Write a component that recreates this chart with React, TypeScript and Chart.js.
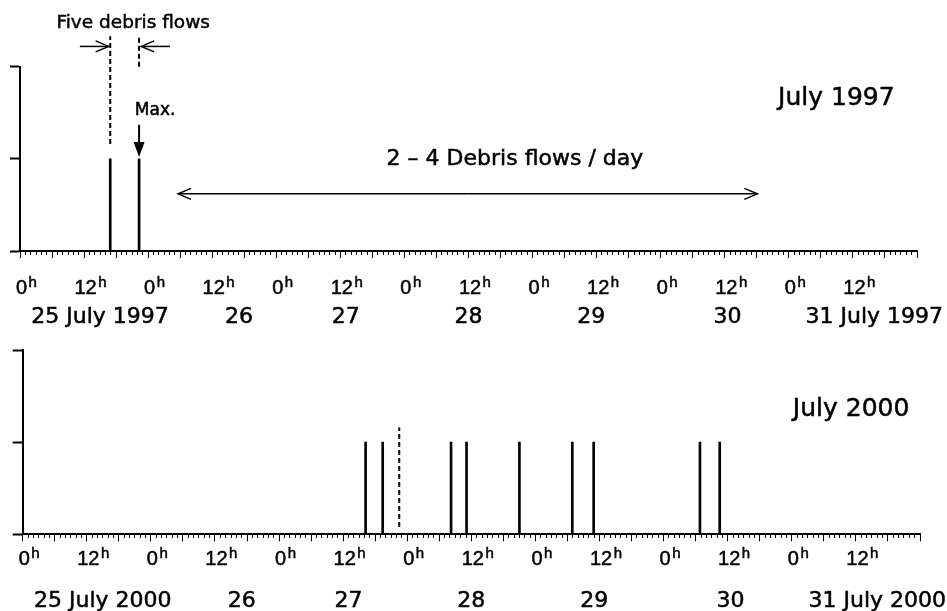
import React, { useEffect, useRef } from 'react';
import { Chart, registerables } from 'chart.js';

Chart.register(...registerables);

// ---------------- data ----------------
const HOUR_MIN = 0;
const HOUR_MAX = 168; // 25 July 0h .. 1 Aug 0h
const hourLabelValues = [0, 12, 24, 36, 48, 60, 72, 84, 96, 108, 120, 132, 144, 156];
const hourLabelTexts = ['0', '12', '0', '12', '0', '12', '0', '12', '0', '12', '0', '12', '0', '12'];
const dateLabelHours = [15, 41, 61, 84, 107, 132.5, 160];
const dateLabels1997 = ['25 July 1997', '26', '27', '28', '29', '30', '31 July 1997'];
const dateLabels2000 = ['25 July 2000', '26', '27', '28', '29', '30', '31 July 2000'];

// debris flow events (hour from 25 July 0h, relative magnitude)
const flows1997Hours = [16.9, 22.3];
const flows1997Values = [1, 1];
const flows2000Hours = [64.2, 67.4, 80.2, 83.1, 93.0, 102.9, 106.9, 126.8, 130.5];
const flows2000Values = [1, 1, 1, 1, 1, 1, 1, 1, 1];

// dashed markers
const dashed1997Hours = [16.9, 22.3];
const dashed1997From = [1.16, 2.0];
const dashed1997To = [2.33, 2.33];
const dashed2000Hours = [70.5];
const dashed2000From = [0.08];
const dashed2000To = [1.16];

// annotation anchors (hour, value)
const fiveFlowsText = { text: 'Five debris flows', hour: 21.2, value: 2.42 };
const fiveFlowsArrowValue = 2.22;
const fiveFlowsLeftArrow = [11.2, 16.6]; // from, tip
const fiveFlowsRightArrow = [28.1, 22.7]; // from, tip
const maxText = { text: 'Max.', hour: 25.3, value: 1.475 };
const maxArrow = { hour: 22.3, from: 1.37, tip: 1.02 };
const rangeArrow = { from: 29.6, to: 138.1, value: 0.62 };
const rangeText = { text: '2 \u2013 4 Debris flows / day', hour: 92.7, value: 0.93 };
const title1997 = { text: 'July 1997', hour: 152.9, value: 1.58 };
const title2000 = { text: 'July 2000', hour: 155.1, value: 1.28 };

// ---------------- helpers ----------------
const TEXT_FONT = '"DejaVu Sans", sans-serif';
const TICK_FONT = '"Liberation Sans", Arial, sans-serif';

function heavyText(ctx: any, t: string, x: number, y: number) {
  ctx.fillText(t, x, y);
  ctx.strokeText(t, x, y);
}

function buildDatasets(hours: number[], values: number[], dHours: number[], dFrom: number[], dTo: number[]) {
  const ds: any[] = [
    {
      type: 'bar',
      data: hours.map((h, i) => ({ x: h, y: values[i] })),
      backgroundColor: '#000',
      borderWidth: 0,
      barThickness: 2,
    },
  ];
  dHours.forEach((h, i) => {
    ds.push({
      type: 'line',
      data: [
        { x: h, y: dFrom[i] },
        { x: h, y: dTo[i] },
      ],
      borderColor: '#000',
      borderWidth: 2,
      borderDash: [5, 3],
      pointRadius: 0,
      fill: false,
      clip: false,
    });
  });
  return ds;
}

function makeOptions(padding: any) {
  return {
    responsive: false,
    animation: false,
    events: [],
    layout: { padding },
    plugins: { legend: { display: false }, tooltip: { enabled: false }, title: { display: false } },
    scales: {
      x: {
        type: 'linear',
        min: HOUR_MIN,
        max: HOUR_MAX,
        offset: false,
        ticks: { display: false, stepSize: 1, autoSkip: false },
        grid: {
          display: true,
          offset: false,
          drawOnChartArea: false,
          drawTicks: true,
          tickLength: 7,
          tickColor: '#000',
          tickWidth: 1,
          tickBorderDash: (c: any) => (c.tick && Math.round(c.tick.value) % 6 === 0 ? [] : [3, 50]),
        },
        border: { display: true, color: '#000', width: 2 },
      },
      y: {
        min: 0,
        max: 2,
        ticks: { display: false, stepSize: 1 },
        grid: { display: true, drawOnChartArea: false, drawTicks: true, tickLength: 10, tickColor: '#000', tickWidth: 2 },
        border: { display: true, color: '#000', width: 2 },
      },
    },
  };
}

function drawAxisLabels(chart: any, dates: string[], hourOff: number, dateOff: number) {
  const ctx = chart.ctx;
  const xs = chart.scales.x;
  const base = chart.chartArea.bottom;
  ctx.save();
  ctx.fillStyle = '#000';
  ctx.strokeStyle = '#000';
  ctx.lineWidth = 0.5;
  ctx.textBaseline = 'alphabetic';
  hourLabelValues.forEach((v, i) => {
    const px = xs.getPixelForValue(v) + 1.5;
    const t = hourLabelTexts[i];
    ctx.font = `20px ${TICK_FONT}`;
    ctx.textAlign = 'center';
    const w = ctx.measureText(t).width;
    heavyText(ctx, t, px, base + hourOff);
    ctx.font = `15px ${TICK_FONT}`;
    ctx.textAlign = 'left';
    heavyText(ctx, 'h', px + w / 2 + 1.5, base + hourOff - 7);
  });
  ctx.font = `22px ${TEXT_FONT}`;
  ctx.textAlign = 'center';
  dates.forEach((d, i) => heavyText(ctx, d, xs.getPixelForValue(dateLabelHours[i]), base + dateOff));
  ctx.restore();
}

function text(chart: any, t: { text: string; hour: number; value: number }, size: number) {
  const ctx = chart.ctx;
  ctx.save();
  ctx.fillStyle = '#000';
  ctx.strokeStyle = '#000';
  ctx.lineWidth = 0.5;
  ctx.font = `${size}px ${TEXT_FONT}`;
  ctx.textAlign = 'center';
  ctx.textBaseline = 'alphabetic';
  heavyText(ctx, t.text, chart.scales.x.getPixelForValue(t.hour), chart.scales.y.getPixelForValue(t.value));
  ctx.restore();
}

function openHead(ctx: any, tipX: number, tipY: number, dir: number) {
  ctx.beginPath();
  ctx.moveTo(tipX - dir * 13, tipY - 5.5);
  ctx.lineTo(tipX, tipY);
  ctx.lineTo(tipX - dir * 13, tipY + 5.5);
  ctx.stroke();
}

function hArrow(chart: any, fromH: number, tipH: number, value: number, width: number) {
  const ctx = chart.ctx;
  const xs = chart.scales.x;
  const y = chart.scales.y.getPixelForValue(value);
  const x0 = xs.getPixelForValue(fromH);
  const x1 = xs.getPixelForValue(tipH);
  ctx.save();
  ctx.strokeStyle = '#000';
  ctx.lineWidth = width;
  ctx.beginPath();
  ctx.moveTo(x0, y);
  ctx.lineTo(x1, y);
  ctx.stroke();
  openHead(ctx, x1, y, x1 > x0 ? 1 : -1);
  ctx.restore();
}

const topPlugin = {
  id: 'top1997',
  afterDraw(chart: any) {
    drawAxisLabels(chart, dateLabels1997, 43, 72);
    text(chart, fiveFlowsText, 18.5);
    hArrow(chart, fiveFlowsLeftArrow[0], fiveFlowsLeftArrow[1], fiveFlowsArrowValue, 1.5);
    hArrow(chart, fiveFlowsRightArrow[0], fiveFlowsRightArrow[1], fiveFlowsArrowValue, 1.5);
    text(chart, maxText, 17);
    // Max. arrow (filled head)
    const ctx = chart.ctx;
    const x = chart.scales.x.getPixelForValue(maxArrow.hour);
    const y0 = chart.scales.y.getPixelForValue(maxArrow.from);
    const y1 = chart.scales.y.getPixelForValue(maxArrow.tip);
    ctx.save();
    ctx.strokeStyle = '#000';
    ctx.fillStyle = '#000';
    ctx.lineWidth = 2;
    ctx.beginPath();
    ctx.moveTo(x, y0);
    ctx.lineTo(x, y1 - 12);
    ctx.stroke();
    ctx.beginPath();
    ctx.moveTo(x - 5.5, y1 - 15);
    ctx.lineTo(x + 5.5, y1 - 15);
    ctx.lineTo(x, y1);
    ctx.closePath();
    ctx.fill();
    ctx.restore();
    // range double arrow
    const mid = (rangeArrow.from + rangeArrow.to) / 2;
    hArrow(chart, mid, rangeArrow.from, rangeArrow.value, 1.5);
    hArrow(chart, mid, rangeArrow.to, rangeArrow.value, 1.5);
    text(chart, rangeText, 22);
    text(chart, title1997, 25);
  },
};

const bottomPlugin = {
  id: 'bottom2000',
  afterDraw(chart: any) {
    drawAxisLabels(chart, dateLabels2000, 31, 73);
    text(chart, title2000, 25);
  },
};

export default function App() {
  const topRef = useRef<HTMLCanvasElement>(null);
  const botRef = useRef<HTMLCanvasElement>(null);

  useEffect(() => {
    document.body.style.margin = '0';
    const c1 = new Chart(topRef.current as HTMLCanvasElement, {
      type: 'bar',
      data: { datasets: buildDatasets(flows1997Hours, flows1997Values, dashed1997Hours, dashed1997From, dashed1997To) },
      options: makeOptions({ left: 10, right: 30, top: 66.7, bottom: 72 }) as any,
      plugins: [topPlugin],
    } as any);
    const c2 = new Chart(botRef.current as HTMLCanvasElement, {
      type: 'bar',
      data: { datasets: buildDatasets(flows2000Hours, flows2000Values, dashed2000Hours, dashed2000From, dashed2000To) },
      options: makeOptions({ left: 12.7, right: 27, top: 20, bottom: 69.7 }) as any,
      plugins: [bottomPlugin],
    } as any);
    return () => {
      c1.destroy();
      c2.destroy();
    };
  }, []);

  return (
    <div style={{ width: 947, height: 611, background: '#fff', overflow: 'hidden' }}>
      <canvas ref={topRef} width={947} height={330} style={{ display: 'block', width: 947, height: 330 }} />
      <canvas ref={botRef} width={947} height={281} style={{ display: 'block', width: 947, height: 281 }} />
    </div>
  );
}
